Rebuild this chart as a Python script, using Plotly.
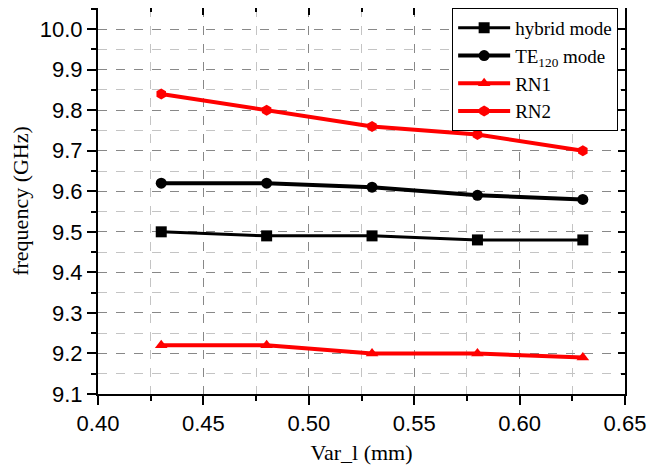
import plotly.graph_objects as go

x_vals = [0.43, 0.48, 0.53, 0.58, 0.63]
hybrid = [9.50, 9.49, 9.49, 9.48, 9.48]
te120 = [9.62, 9.62, 9.61, 9.59, 9.58]
rn1 = [9.22, 9.22, 9.20, 9.20, 9.19]
rn2 = [9.84, 9.80, 9.76, 9.74, 9.70]
x_ticks = [0.40, 0.45, 0.50, 0.55, 0.60, 0.65]
x_labels = ["0.40", "0.45", "0.50", "0.55", "0.60", "0.65"]
y_ticks = [9.1, 9.2, 9.3, 9.4, 9.5, 9.6, 9.7, 9.8, 9.9, 10.0]
y_labels = ["9.1", "9.2", "9.3", "9.4", "9.5", "9.6", "9.7", "9.8", "9.9", "10.0"]

series = [
    ("hybrid mode", hybrid, "black", "square", 3),
    ("TE<sub>120</sub> mode", te120, "black", "circle", 4),
    ("RN1", rn1, "red", "triangle-up", 4),
    ("RN2", rn2, "red", "hexagon", 4),
]

fig = go.Figure()
for name, ys, col, sym, w in series:
    fig.add_trace(go.Scatter(
        x=x_vals, y=ys, name=name, mode="lines+markers",
        line=dict(color=col, width=w),
        marker=dict(symbol=sym, size=11, color=col),
    ))

XR = [0.40, 0.65]
YR = [9.1, 10.052]
tickfont = dict(family="Liberation Sans, Arial", size=22, color="black")
titlefont = dict(family="Liberation Serif, Times New Roman", size=22, color="black")

fig.update_layout(
    width=657, height=464,
    margin=dict(l=90, r=40, t=0, b=78, autoexpand=False),
    paper_bgcolor="white", plot_bgcolor="white",
    showlegend=True,
    legend=dict(
        x=0.672, y=1.0, xanchor="left", yanchor="top",
        bordercolor="black", borderwidth=1, bgcolor="white",
        font=dict(family="Liberation Serif, Times New Roman", size=19, color="black"),
        tracegroupgap=0, itemwidth=52,
    ),
    xaxis=dict(
        range=XR, tickvals=x_ticks, ticktext=x_labels,
        ticks="outside", ticklen=9, tickwidth=1.5, tickcolor="black",
        showline=True, linecolor="black", linewidth=2, mirror=True,
        showgrid=True, gridcolor="#888888", griddash="dash", gridwidth=1,
        minor=dict(dtick=0.025, ticks="outside", ticklen=5, tickcolor="black",
                   showgrid=True, gridcolor="#c4c4c4", griddash="dash", gridwidth=1),
        tickfont=tickfont, zeroline=False, automargin=False,
        title=dict(text="Var_l (mm)", font=titlefont, standoff=9),
    ),
    yaxis=dict(
        range=YR, tickvals=y_ticks, ticktext=y_labels,
        ticks="outside", ticklen=9, tickwidth=1.5, tickcolor="black",
        showline=True, linecolor="black", linewidth=2, mirror=True,
        showgrid=True, gridcolor="#888888", griddash="dash", gridwidth=1,
        minor=dict(dtick=0.05, tick0=9.1, ticks="outside", ticklen=5, tickcolor="black",
                   showgrid=True, gridcolor="#c4c4c4", griddash="dash", gridwidth=1),
        tickfont=tickfont, zeroline=False, automargin=False,
        title=dict(text="frequency (GHz)", font=titlefont, standoff=8),
    ),
    xaxis2=dict(
        overlaying="x", side="top", range=XR, tickvals=x_ticks,
        ticks="inside", ticklen=7, tickwidth=1.5, tickcolor="black",
        showticklabels=False, showgrid=False, zeroline=False, showline=False,
        minor=dict(dtick=0.025, ticks="inside", ticklen=4, tickcolor="black"),
        automargin=False,
    ),
    yaxis2=dict(
        overlaying="y", side="right", range=YR, tickvals=y_ticks,
        ticks="inside", ticklen=7, tickwidth=1.5, tickcolor="black",
        showticklabels=False, showgrid=False, zeroline=False, showline=False,
        minor=dict(dtick=0.05, tick0=9.1, ticks="inside", ticklen=4, tickcolor="black"),
        automargin=False,
    ),
)

fig.add_trace(go.Scatter(x=[None], y=[None], xaxis="x2", yaxis="y2",
                         showlegend=False, hoverinfo="skip"))

fig.write_html("out.html")
